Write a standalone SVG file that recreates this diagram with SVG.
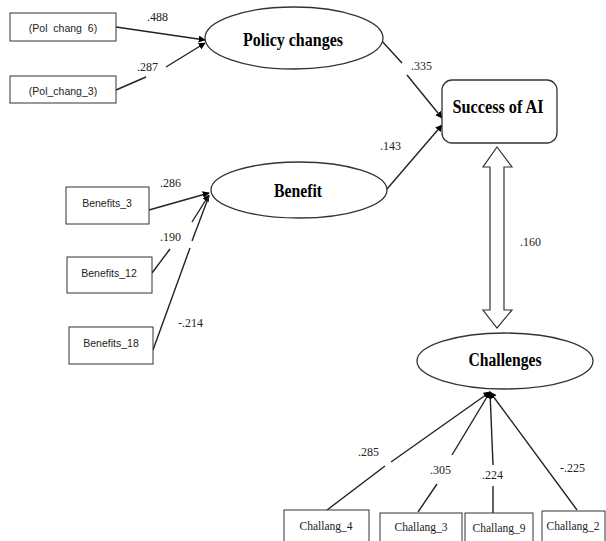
<svg xmlns="http://www.w3.org/2000/svg" width="606" height="541" viewBox="0 0 606 541">
<defs>
<marker id="ah" viewBox="0 0 10 10" refX="9" refY="5" markerWidth="7" markerHeight="7" orient="auto" markerUnits="userSpaceOnUse"><path d="M0,0 L10,5 L0,10 z" fill="#000"/></marker>
<style>
.box{fill:#fff;stroke:#333;stroke-width:1}
.ell{fill:#fff;stroke:#333;stroke-width:1.3}
.ln{stroke:#222;stroke-width:1.4;fill:none}
.lb{font-family:"Liberation Serif",serif;font-size:12px;fill:#222}
.bs{font-family:"Liberation Sans",sans-serif;font-size:10.5px;fill:#222;text-anchor:middle;white-space:pre}
.bt{font-family:"Liberation Serif",serif;font-size:11.5px;fill:#222;text-anchor:middle}
.ti{font-family:"Liberation Serif",serif;font-size:18.5px;font-weight:bold;fill:#000;text-anchor:middle}
</style>
</defs>
<rect width="606" height="541" fill="#fff"/>
<g id="connectors">
<line class="ln" x1="116" y1="27" x2="205" y2="40" marker-end="url(#ah)"/>
<line class="ln" x1="116" y1="90" x2="146" y2="77"/>
<line class="ln" x1="166" y1="67" x2="205" y2="43" marker-end="url(#ah)"/>
<line class="ln" x1="380" y1="39" x2="402" y2="63"/>
<line class="ln" x1="407" y1="75" x2="442" y2="118" marker-end="url(#ah)"/>
<line class="ln" x1="387" y1="189" x2="442" y2="125" marker-end="url(#ah)"/>
<line class="ln" x1="149" y1="210" x2="209" y2="193" marker-end="url(#ah)"/>
<line class="ln" x1="152" y1="273" x2="170" y2="249"/>
<line class="ln" x1="192" y1="222" x2="209" y2="195" marker-end="url(#ah)"/>
<line class="ln" x1="153" y1="350" x2="190" y2="248" stroke-width="1.1"/>
<line class="ln" x1="192" y1="241" x2="209" y2="196" stroke-width="1.1"/>
<line class="ln" x1="327" y1="510" x2="385" y2="466"/>
<line class="ln" x1="391" y1="462" x2="490" y2="392" marker-end="url(#ah)"/>
<line class="ln" x1="418" y1="512" x2="437" y2="484"/>
<line class="ln" x1="452" y1="455" x2="490" y2="392" marker-end="url(#ah)"/>
<line class="ln" x1="493" y1="513" x2="493" y2="486"/>
<line class="ln" x1="493" y1="465" x2="490" y2="392" marker-end="url(#ah)"/>
<line class="ln" x1="577" y1="510" x2="490" y2="392" marker-end="url(#ah)"/>
<path d="M497,147 L512,167 L504,167 L504,310 L512,310 L497,328 L483,310 L490,310 L490,167 L483,167 Z" fill="#fff" stroke="#333" stroke-width="1.2"/>
</g>
<g id="labels">
<text class="lb" x="147" y="21">.488</text>
<text class="lb" x="137" y="71">.287</text>
<text class="lb" x="411" y="70">.335</text>
<text class="lb" x="380" y="150">.143</text>
<text class="lb" x="160" y="187">.286</text>
<text class="lb" x="160" y="241">.190</text>
<text class="lb" x="178" y="327">-.214</text>
<text class="lb" x="520" y="246">.160</text>
<text class="lb" x="358" y="456">.285</text>
<text class="lb" x="430" y="474">.305</text>
<text class="lb" x="482" y="479">.224</text>
<text class="lb" x="560" y="472">-.225</text>
</g>
<g id="pol6"><rect class="box" x="10" y="13" width="106" height="28"/><text class="bs" x="63" y="32" xml:space="preserve">(Pol  chang  6)</text></g>
<g id="pol3"><rect class="box" x="10" y="76" width="106" height="27"/><text class="bs" x="63" y="95">(Pol_chang_3)</text></g>
<g id="policy"><ellipse class="ell" cx="294" cy="38" rx="89" ry="31"/><text class="ti" x="293" y="46" textLength="100" lengthAdjust="spacingAndGlyphs">Policy changes</text></g>
<g id="success"><rect class="ell" x="442" y="80" width="115" height="63" rx="10"/><text class="ti" x="498" y="113" textLength="91" lengthAdjust="spacingAndGlyphs">Success of AI</text></g>
<g id="benefit"><ellipse class="ell" cx="299" cy="190" rx="88" ry="28"/><text class="ti" x="298" y="197" textLength="48" lengthAdjust="spacingAndGlyphs">Benefit</text></g>
<g id="b3"><rect class="box" x="66" y="187" width="83" height="37"/><text class="bs" x="107" y="207">Benefits_3</text></g>
<g id="b12"><rect class="box" x="67" y="257" width="85" height="36"/><text class="bs" x="109" y="277">Benefits_12</text></g>
<g id="b18"><rect class="box" x="69" y="327" width="84" height="37"/><text class="bs" x="111" y="347">Benefits_18</text></g>
<g id="challenges"><ellipse class="ell" cx="505" cy="361" rx="88" ry="28"/><text class="ti" x="505" y="366" textLength="73" lengthAdjust="spacingAndGlyphs">Challenges</text></g>
<g id="c4"><rect class="box" x="284" y="510" width="85" height="32"/><text class="bt" x="326" y="530">Challang_4</text></g>
<g id="c3"><rect class="box" x="380" y="513" width="82" height="29"/><text class="bt" x="421" y="531">Challang_3</text></g>
<g id="c9"><rect class="box" x="465" y="513" width="68" height="29"/><text class="bt" x="499" y="532">Challang_9</text></g>
<g id="c2"><rect class="box" x="542" y="511" width="63" height="31"/><text class="bt" x="573" y="530">Challang_2</text></g>
</svg>
